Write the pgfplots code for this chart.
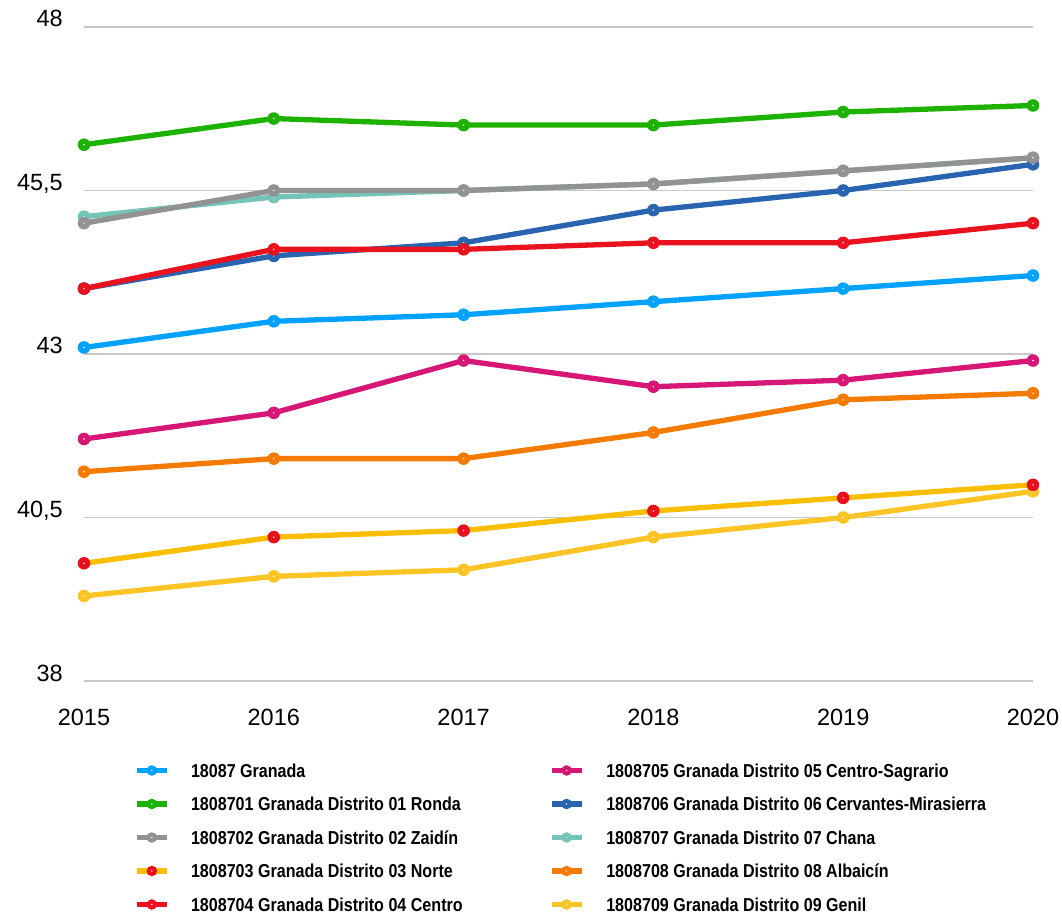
\documentclass[border=0pt]{standalone}
\usepackage{pgfplots}
\pgfplotsset{compat=1.18}
\usepackage{fontspec}
\setmainfont{Liberation Sans}
\newfontfamily\legfont[FakeStretch=0.86]{Liberation Sans}
\definecolor{cgra}{RGB}{0,162,255}
\definecolor{cron}{RGB}{29,177,0}
\definecolor{czai}{RGB}{146,146,146}
\definecolor{cnorl}{RGB}{250,190,0}
\definecolor{cnorm}{RGB}{230,16,30}
\definecolor{ccen}{RGB}{234,18,30}
\definecolor{csag}{RGB}{214,23,118}
\definecolor{ccer}{RGB}{40,100,175}
\definecolor{ccha}{RGB}{117,196,184}
\definecolor{calb}{RGB}{245,123,0}
\definecolor{cgen}{RGB}{253,196,38}
\definecolor{cgrid}{RGB}{200,200,200}
\pgfdeclareplotmark{cdot}{%
  \pgfpathcircle{\pgfpointorigin}{\pgfplotmarksize}\pgfusepathqfill
  \pgfscope\pgfsetfillcolor{white}\pgfpathcircle{\pgfpointorigin}{0.8bp}\pgfusepathqfill\endpgfscope}
\pgfplotsset{ser/.style={color=#1, line width=5.3bp, mark=cdot, mark size=6.3bp, line join=round}}
\newcommand{\LE}[2][358bp]{\makebox[#1][l]{\legfont\bfseries\fontsize{18.7bp}{20bp}\selectfont #2}}
\begin{document}
\begin{tikzpicture}
\begin{axis}[
  at={(0,0)}, anchor=south west,
  scale only axis, width=949bp, height=654bp,
  xmin=2015, xmax=2020, ymin=38, ymax=48,
  clip=false,
  axis line style={draw=none},
  major tick length=0pt,
  xtick={2015,2016,2017,2018,2019,2020},
  xticklabels={2015,2016,2017,2018,2019,2020},
  ytick={38,40.5,43,45.5,48},
  yticklabels={38,{40,5},43,{45,5},48},
  ymajorgrids, grid style={cgrid, line width=1.3bp},
  xticklabel style={font=\fontsize{23.5bp}{28bp}\selectfont, anchor=base, inner sep=0pt, yshift=-44bp},
  yticklabel style={font=\fontsize{23.5bp}{28bp}\selectfont, anchor=base east, inner sep=0pt, xshift=-21bp},
  legend columns=2,
  legend style={draw=none, fill=none, inner sep=0pt, row sep=19.5bp, column sep=0pt,
    nodes={inner sep=0pt, text height=14bp, text depth=0pt}, cells={anchor=base west},
    at={(0.05269,-0.12538)}, anchor=north west,
    /tikz/every odd column/.append style={column sep=21.5bp}},
  legend image code/.code={\draw[mark repeat=2,mark phase=2,#1,mark size=5.3bp] plot coordinates {(0bp,6.7bp)(15bp,6.7bp)(30bp,6.7bp)};},
]
% drawn in reverse order so that the first series is on top
\addplot[ser=cgen, forget plot] coordinates {(2015,39.3)(2016,39.6)(2017,39.7)(2018,40.2)(2019,40.5)(2020,40.9)};
\addplot[ser=calb, forget plot] coordinates {(2015,41.2)(2016,41.4)(2017,41.4)(2018,41.8)(2019,42.3)(2020,42.4)};
\addplot[ser=ccha, forget plot] coordinates {(2015,45.1)(2016,45.4)(2017,45.5)(2018,45.6)(2019,45.8)(2020,46.0)};
\addplot[ser=ccer, forget plot] coordinates {(2015,44.0)(2016,44.5)(2017,44.7)(2018,45.2)(2019,45.5)(2020,45.9)};
\addplot[ser=csag, forget plot] coordinates {(2015,41.7)(2016,42.1)(2017,42.9)(2018,42.5)(2019,42.6)(2020,42.9)};
\addplot[ser=ccen, forget plot] coordinates {(2015,44.0)(2016,44.6)(2017,44.6)(2018,44.7)(2019,44.7)(2020,45.0)};
\addplot[ser=cnorl, mark options={fill=cnorm}, forget plot] coordinates {(2015,39.8)(2016,40.2)(2017,40.3)(2018,40.6)(2019,40.8)(2020,41.0)};
\addplot[ser=czai, forget plot] coordinates {(2015,45.0)(2016,45.5)(2017,45.5)(2018,45.6)(2019,45.8)(2020,46.0)};
\addplot[ser=cron, forget plot] coordinates {(2015,46.2)(2016,46.6)(2017,46.5)(2018,46.5)(2019,46.7)(2020,46.8)};
\addplot[ser=cgra, forget plot] coordinates {(2015,43.1)(2016,43.5)(2017,43.6)(2018,43.8)(2019,44.0)(2020,44.2)};
% legend, row by row (left column: 1-5, right column: 6-10)
\addlegendimage{ser=cgra}\addlegendentry{\LE{18087 Granada}}
\addlegendimage{ser=csag}\addlegendentry{\LE[0pt]{1808705 Granada Distrito 05 Centro-Sagrario}}
\addlegendimage{ser=cron}\addlegendentry{\LE{1808701 Granada Distrito 01 Ronda}}
\addlegendimage{ser=ccer}\addlegendentry{\LE[0pt]{1808706 Granada Distrito 06 Cervantes-Mirasierra}}
\addlegendimage{ser=czai}\addlegendentry{\LE{1808702 Granada Distrito 02 Zaidín}}
\addlegendimage{ser=ccha}\addlegendentry{\LE[0pt]{1808707 Granada Distrito 07 Chana}}
\addlegendimage{ser=cnorl, mark options={fill=cnorm}}\addlegendentry{\LE{1808703 Granada Distrito 03 Norte}}
\addlegendimage{ser=calb}\addlegendentry{\LE[0pt]{1808708 Granada Distrito 08 Albaicín}}
\addlegendimage{ser=ccen}\addlegendentry{\LE{1808704 Granada Distrito 04 Centro}}
\addlegendimage{ser=cgen}\addlegendentry{\LE[0pt]{1808709 Granada Distrito 09 Genil}}
\end{axis}
\path (-84bp,-234bp) rectangle (978bp,681bp);
\end{tikzpicture}
\end{document}
